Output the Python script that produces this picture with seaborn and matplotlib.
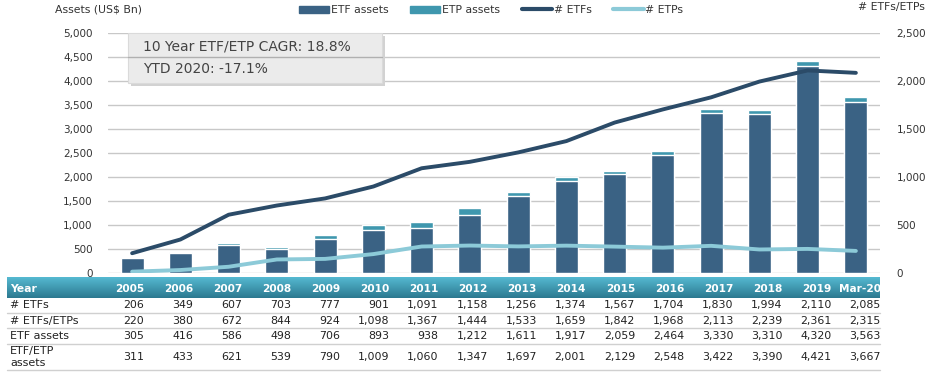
import numpy as np
import seaborn as sns
import matplotlib.pyplot as plt
from matplotlib.patches import Patch, Rectangle
from matplotlib.lines import Line2D
from matplotlib.colors import LinearSegmentedColormap

# Data
years = ['2005', '2006', '2007', '2008', '2009', '2010', '2011', '2012', '2013',
         '2014', '2015', '2016', '2017', '2018', '2019', 'Mar-20']
n_etfs = [206, 349, 607, 703, 777, 901, 1091, 1158, 1256, 1374, 1567, 1704, 1830, 1994, 2110, 2085]
n_etfs_etps = [220, 380, 672, 844, 924, 1098, 1367, 1444, 1533, 1659, 1842, 1968, 2113, 2239, 2361, 2315]
etf_assets = [305, 416, 586, 498, 706, 893, 938, 1212, 1611, 1917, 2059, 2464, 3330, 3310, 4320, 3563]
etf_etp_assets = [311, 433, 621, 539, 790, 1009, 1060, 1347, 1697, 2001, 2129, 2548, 3422, 3390, 4421, 3667]
n_etps = [a - b for a, b in zip(n_etfs_etps, n_etfs)]

dark = '#3a6284'
teal = '#3f97ae'
line_dark = '#2b4b68'
line_light = '#8ccad8'
txt = '#333333'

sns.set_style('white')
plt.rcParams['font.family'] = ['DejaVu Sans']

W, H = 941, 375
fig = plt.figure(figsize=(W / 100, H / 100), dpi=100)
L, R, T, B = 108, 880, 33, 273
ax = fig.add_axes([L / W, 1 - B / H, (R - L) / W, (B - T) / H])

# stacked bars: total first, ETF on top
sns.barplot(x=years, y=etf_etp_assets, color=teal, width=0.48, saturation=1, ax=ax, zorder=2)
sns.barplot(x=years, y=etf_assets, color=dark, width=0.48, saturation=1, ax=ax, zorder=2)
ax.set_xlim(-0.5, len(years) - 0.5)
ax.set_ylim(0, 5000)
ax.set_yticks(range(0, 5001, 500))
ax.set_yticklabels([f'{v:,}' for v in range(0, 5001, 500)], fontsize=7.5, color=txt)
ax.set_xticks([])
ax.set_xlabel('')
ax.set_ylabel('')
ax.tick_params(axis='y', length=0, pad=11)
ax.yaxis.grid(True, color='#c8c8c8', lw=1)
ax.set_axisbelow(True)
for s in ax.spines.values():
    s.set_visible(False)

ax2 = ax.twinx()
xpos = np.arange(len(years))
sns.lineplot(x=xpos, y=n_etfs, color=line_dark, lw=2.8, ax=ax2, sort=False)
sns.lineplot(x=xpos, y=n_etps, color=line_light, lw=2.8, ax=ax2, sort=False)
ax2.set_ylim(0, 2500)
ax2.set_yticks(range(0, 2501, 500))
ax2.set_yticklabels([f'{v:,}' for v in range(0, 2501, 500)], fontsize=7.5, color=txt)
ax2.tick_params(axis='y', length=0, pad=12)
ax2.set_ylabel('')
for s in ax2.spines.values():
    s.set_visible(False)

# axis titles
fig.text(55 / W, 1 - 9 / H, 'Assets (US$ Bn)', fontsize=7.8, color=txt, va='center')
fig.text(925 / W, 1 - 7 / H, '# ETFs/ETPs', fontsize=7.8, color=txt, va='center', ha='right')

# legend
handles = [Patch(color=dark), Patch(color=teal),
           Line2D([], [], color=line_dark, lw=3), Line2D([], [], color=line_light, lw=3)]
fig.legend(handles, ['ETF assets', 'ETP assets', '# ETFs', '# ETPs'], ncol=4,
           loc='center', bbox_to_anchor=(491 / W, 1 - 10 / H), frameon=False,
           fontsize=7.8, handlelength=2.8, handleheight=0.6, columnspacing=2.0,
           handletextpad=0.15, labelcolor=txt)

# CAGR box with soft shadow
fig.patches.append(Rectangle((131 / W, 1 - 86 / H), 254 / W, 50 / H, transform=fig.transFigure,
                             facecolor='#d2d2d2', edgecolor='none', zorder=4))
fig.patches.append(Rectangle((128 / W, 1 - 83 / H), 254 / W, 50 / H, transform=fig.transFigure,
                             facecolor='#ebebeb', edgecolor='#dadada', lw=0.8, zorder=5))
fig.add_artist(Line2D([128 / W, 382 / W], [1 - 57 / H, 1 - 57 / H], color='#b0b0b0',
                      lw=1, transform=fig.transFigure, zorder=6))
fig.text(143 / W, 1 - 46 / H, '10 Year ETF/ETP CAGR: 18.8%', fontsize=10, color='#444444',
         va='center', zorder=7)
fig.text(143 / W, 1 - 69 / H, 'YTD 2020: -17.1%', fontsize=10, color='#444444',
         va='center', zorder=7)

# table header band
hx0, hx1, hy0, hy1 = 7, 880, 277, 298
hax = fig.add_axes([hx0 / W, 1 - hy1 / H, (hx1 - hx0) / W, (hy1 - hy0) / H])
cmap = LinearSegmentedColormap.from_list('hdr', ['#55b9d1', '#2c7990'])
hax.imshow(np.linspace(0, 1, 50).reshape(-1, 1), aspect='auto', cmap=cmap,
           extent=[0, 1, 0, 1])
hax.axis('off')

col_right = [144 + i * 49.1 for i in range(len(years))]
fig.text(10 / W, 1 - 289 / H, 'Year', fontsize=7.8, color='white', weight='bold', va='center')
for x, yr in zip(col_right, years):
    fig.text(x / W, 1 - 289 / H, yr, fontsize=7.6, color='white', weight='bold',
             va='center', ha='right')

rows = [('# ETFs', n_etfs, 305), ('# ETFs/ETPs', n_etfs_etps, 321),
        ('ETF assets', etf_assets, 336), ('ETF/ETP\nassets', etf_etp_assets, 357)]
for label, vals, y in rows:
    fig.text(10 / W, 1 - y / H, label, fontsize=8, color='#222222', va='center',
             linespacing=1.3)
    for x, v in zip(col_right, vals):
        fig.text(x / W, 1 - y / H, f'{v:,}', fontsize=7.9, color='#222222',
                 va='center', ha='right')

for y in [313, 328, 344, 370]:
    fig.add_artist(Line2D([7 / W, 880 / W], [1 - y / H, 1 - y / H], color='#d0d0d0',
                          lw=1, transform=fig.transFigure))

fig.savefig('out.png', dpi=100)
